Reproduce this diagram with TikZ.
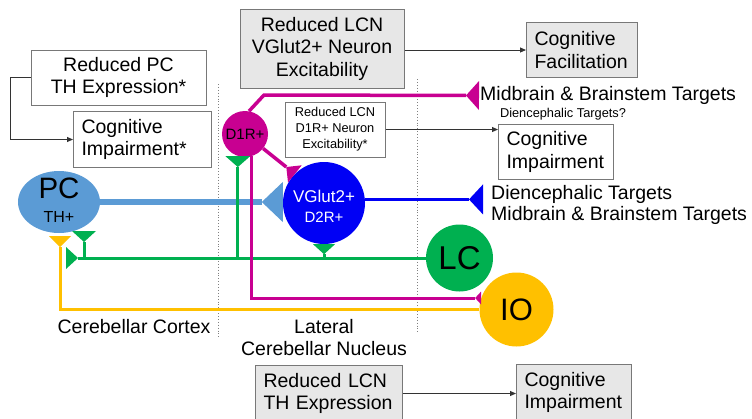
\documentclass[tikz,border=0pt]{standalone}
\usepackage{fontspec}
\setmainfont{Liberation Sans}
\usetikzlibrary{arrows.meta,shapes.geometric}

\definecolor{magD}{RGB}{200,0,145}
\definecolor{blueV}{RGB}{0,0,245}
\definecolor{bluePC}{RGB}{91,155,213}
\definecolor{greenLC}{RGB}{0,176,80}
\definecolor{goldIO}{RGB}{255,192,0}
\definecolor{boxgray}{RGB}{231,231,231}
\definecolor{edgegray}{RGB}{120,120,120}

\newcommand{\boxfont}{\fontsize{19.5}{22.5}\selectfont}
\newcommand{\tinyfont}{\fontsize{12.8}{16}\selectfont}

\tikzset{
	box/.style={draw=edgegray, line width=1pt, inner sep=0pt, font=\boxfont, align=center},
	graybox/.style={box, fill=boxgray},
	leftbox/.style={box, align=left, inner xsep=8pt, text width=#1},
	cell/.style={circle, inner sep=0pt, minimum size=#1},
	syn/.style 2 args={-{Triangle[reversed,length=#1,width=#2,line width=0pt]}},
	effect/.style={draw=black!80, line width=0.9pt, -{Triangle[length=6pt,width=5pt]}},
	region/.style={draw=gray, line width=0.9pt, dotted},
	tag/.style={anchor=west, inner sep=1pt, font=\boxfont},
}

\begin{document}
\begin{tikzpicture}[x=1pt,y=-1pt]
	\useasboundingbox (0,0) rectangle (752,418);
	\clip (0,0) rectangle (752,418);

	% region borders
	\coordinate (ctxtop) at (218,84);
	\coordinate (ctxbot) at (218,337);
	\coordinate (lcntop) at (417,79);
	\coordinate (lcnbot) at (417,332);
	\draw[region] (ctxtop) -- (ctxbot);
	\draw[region] (lcntop) -- (lcnbot);

	% result boxes
	\node[box, minimum width=175pt, minimum height=55pt] (pcexpr) at (118.5,77.5) {Reduced PC\\TH Expression*};
	\node[leftbox=122pt, minimum height=56pt, anchor=north west] (cogimpA) at (73,111) {Cognitive\\Impairment*};
	\node[graybox, minimum width=164pt, minimum height=79pt] (vglutexc) at (322,48.5) {Reduced LCN\\VGlut2+ Neuron\\Excitability};
	\node[graybox, leftbox=95pt, minimum height=55pt, anchor=north west] (cogfac) at (526,22) {Cognitive\\Facilitation};
	\node[box, font=\tinyfont, minimum width=100pt, minimum height=55pt] (d1rexc) at (335,129.5) {Reduced LCN\\D1R+ Neuron\\Excitability*};
	\node[leftbox=99pt, minimum height=55pt, anchor=north west] (cogimpB) at (498,124) {Cognitive\\Impairment};
	\node[graybox, leftbox=131pt, minimum height=56pt, anchor=north west] (thexpr) at (255,365) {Reduced LCN\\TH Expression};
	\node[graybox, leftbox=99pt, minimum height=56pt, anchor=north west] (cogimpC) at (516,364) {Cognitive\\Impairment};

	\draw[effect] (pcexpr.west) -- ++(-20,0) |- (cogimpA.west);
	\draw[effect] (vglutexc.east |- cogfac.west) -- (cogfac.west);
	\draw[effect] (d1rexc.east) -- (d1rexc.east -| cogimpB.west);
	\draw[effect] (thexpr.east) -- (thexpr.east -| cogimpC.west);

	% cells
	\node[ellipse, inner sep=0pt, minimum width=82pt, minimum height=62pt, fill=bluePC] (pc) at (59,202) {};
	\node[font=\fontsize{29.5}{29.5}\selectfont] (pcname) at (59,188.5) {PC};
	\node[font=\fontsize{16}{16}\selectfont] (pcth) at (59,217.3) {TH+};
	\node[cell=46pt, fill=magD, font=\fontsize{15}{15}\selectfont] (d1r) at (245,134) {D1R+};
	\node[cell=82pt, fill=blueV] (vglut) at (324,203) {};
	\node[white, font=\fontsize{17}{17}\selectfont] (vgname) at (324,196.5) {VGlut2+};
	\node[white, font=\fontsize{15}{15}\selectfont] (vgd2r) at (324,217.3) {D2R+};
	\node[cell=67pt, fill=greenLC, font=\fontsize{33}{33}\selectfont] (lc) at (459.5,258) {LC};
	\node[cell=74pt, fill=goldIO, font=\fontsize{31}{31}\selectfont] (io) at (516.5,309.5) {IO};

	% targets
	\node[tag] (midtop) at (479,95.5) {Midbrain \& Brainstem Targets};
	\node[font=\tinyfont] (diencq) at (563,114) {Diencephalic Targets?};
	\node[tag] (dienc) at (490,194) {Diencephalic Targets};
	\node[tag] (midlow) at (490,215.7) {Midbrain \& Brainstem Targets};
	\node[font=\boxfont] (cortex) at (134,326.5) {Cerebellar Cortex};
	\node[font=\boxfont, align=center] (lcn) at (324,337.5) {Lateral\\Cerebellar Nucleus};

	% projections
	\coordinate (magbend) at (264,95);
	\coordinate (blueend) at (483,200);
	\coordinate (greenend) at (66,258);
	\coordinate (pcgreen) at (84,231);
	\coordinate (pcgold) at (60,236);

	\draw[bluePC, line width=5.5pt, syn={21pt}{40pt}] (pc.east) -- (pc.east -| vglut.west);
	\draw[blueV, line width=3.5pt, syn={14pt}{30pt}] (vglut.5) -- (vglut.5 -| blueend);
	\draw[greenLC, line width=3pt, syn={12pt}{22pt}] (lc.west) -- (greenend);
	\draw[greenLC, line width=3pt, syn={11pt}{24pt}] (pcgreen |- lc.west) -- (pcgreen);
	\draw[greenLC, line width=3pt, syn={11pt}{25pt}] (d1r.-108 |- lc.west) -- (d1r.-108);
	\draw[greenLC, line width=3pt, syn={10pt}{22pt}] (vglut.south |- lc.west) -- (vglut.south);
	\draw[goldIO, line width=3pt, syn={11pt}{22pt}] (io.west) -| (pcgold);
	\draw[magD, line width=3.5pt, syn={13pt}{29pt}] (d1r.80) -- (magbend) -- (midtop.west);
	\draw[magD, line width=3.5pt, syn={11pt}{22pt}] (d1r) -- (vglut.135);
	\draw[magD, line width=3pt, syn={6pt}{13pt}] (d1r.-75) |- (io.162);
\end{tikzpicture}
\end{document}
